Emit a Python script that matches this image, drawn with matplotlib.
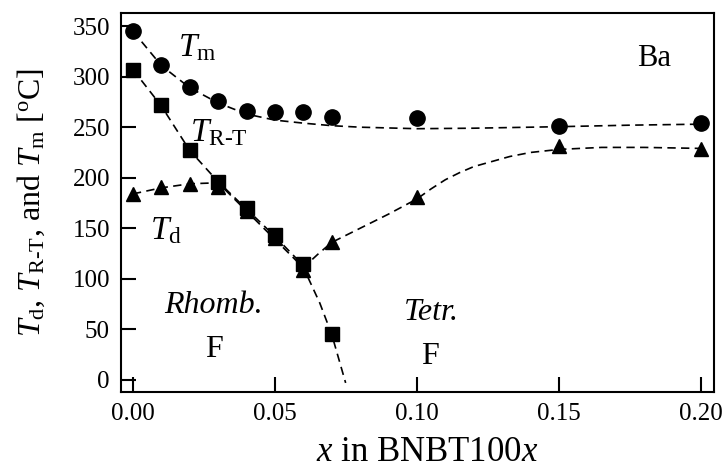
import matplotlib
matplotlib.use("Agg")
import matplotlib.pyplot as plt

plt.rcParams["font.family"] = ["Liberation Serif", "DejaVu Serif"]
plt.rcParams["mathtext.fontset"] = "custom"
plt.rcParams["mathtext.rm"] = "Liberation Serif"
plt.rcParams["mathtext.it"] = "Liberation Serif:italic"

# --- measured transition temperatures ---
x_tm = [0.00, 0.01, 0.02, 0.03, 0.04, 0.05, 0.06, 0.07, 0.10, 0.15, 0.20]
t_m = [345, 312, 290, 276, 266, 265, 265, 260, 259, 251, 254]

x_trt = [0.00, 0.01, 0.02, 0.03, 0.04, 0.05, 0.06, 0.07]
t_rt = [307, 272, 227, 196, 170, 143, 115, 45]

x_td = [0.00, 0.01, 0.02, 0.03, 0.04, 0.05, 0.06, 0.07, 0.10, 0.15, 0.20]
t_d = [184, 191, 194, 191, 167, 140, 109, 136, 181, 231, 228]

# --- hand-drawn guide lines ---
guide_tm_x = [0.00, 0.01, 0.02, 0.03, 0.04, 0.05, 0.06, 0.07, 0.08, 0.10, 0.12, 0.15, 0.175, 0.20]
guide_tm_y = [345, 311, 289, 274, 263, 257, 254, 251.5, 250, 248.5, 249, 250.5, 252, 253]

guide_rt_x = [0.00, 0.01, 0.02, 0.03, 0.04, 0.05, 0.06, 0.0612, 0.0658, 0.07, 0.0749]
guide_rt_y = [307, 271, 227, 196, 169, 142, 113, 104, 76, 45, -3]

guide_td_x = [0.00, 0.01, 0.02, 0.03, 0.06, 0.065, 0.07, 0.08, 0.09, 0.10, 0.105,
              0.11, 0.115, 0.12, 0.1327, 0.14, 0.15, 0.165, 0.18, 0.20]
guide_td_y = [184, 190, 194, 195, 111, 124, 136, 150, 164, 179, 189,
              198, 205, 211, 221, 225, 228, 230, 230, 229]

fig = plt.figure(figsize=(7.25, 4.72), dpi=100)
ax = fig.add_axes([0.1669, 0.1695, 0.8179, 0.803])

dash = dict(color="black", lw=1.2, ls=(0, (5, 3.2)), zorder=2)
ax.plot(guide_tm_x, guide_tm_y, **dash)
ax.plot(guide_rt_x, guide_rt_y, **dash)
ax.plot(guide_td_x, guide_td_y, **dash)

ax.plot(x_td, t_d, ls="none", marker="^", ms=10.5, color="black", zorder=3)
ax.plot(x_trt, t_rt, ls="none", marker="s", ms=9.5, color="black", zorder=4)
ax.plot(x_tm, t_m, ls="none", marker="o", ms=11, color="black", zorder=5)

ax.set_xlim(-0.0042, 0.2046)
ax.set_ylim(-12, 363)
ax.set_xticks([0.00, 0.05, 0.10, 0.15, 0.20])
ax.set_xticklabels(["0.00", "0.05", "0.10", "0.15", "0.20"])
ax.set_yticks(range(0, 351, 50))

ax.tick_params(direction="in", length=11, width=1.5, labelsize=18, pad=8,
               top=False, right=False)
for sp in ax.spines.values():
    sp.set_linewidth(1.5)

ax.set_xlabel(r"$x$ in BNBT100$x$", fontsize=25)
ax.xaxis.set_label_coords(0.516, -0.115, transform=ax.transAxes)
ax.xaxis.label.set_va("top")
ax.set_ylabel(r"$T_{\mathrm{d}}$, $T_{\mathrm{R\text{-}T}}$, and $T_{\mathrm{m}}$ [$^{\mathrm{o}}$C]",
              fontsize=23, labelpad=18)

# --- curve and phase labels ---
ax.text(0.0158, 320, r"$T_{\mathrm{m}}$", fontsize=24, ha="left", va="baseline")
ax.text(0.0201, 236, r"$T_{\mathrm{R\text{-}T}}$", fontsize=24, ha="left", va="baseline")
ax.text(0.0060, 139, r"$T_{\mathrm{d}}$", fontsize=24, ha="left", va="baseline")
ax.text(0.1775, 311, "Ba", fontsize=22, ha="left", va="baseline")

ax.text(0.0285, 66, "Rhomb.", fontsize=23, style="italic", ha="center", va="baseline")
ax.text(0.0285, 23, "F", fontsize=23, ha="center", va="baseline")
ax.text(0.1050, 59, "Tetr.", fontsize=23, style="italic", ha="center", va="baseline")
ax.text(0.1046, 16, "F", fontsize=23, ha="center", va="baseline")

fig.savefig("out.png", dpi=100)
